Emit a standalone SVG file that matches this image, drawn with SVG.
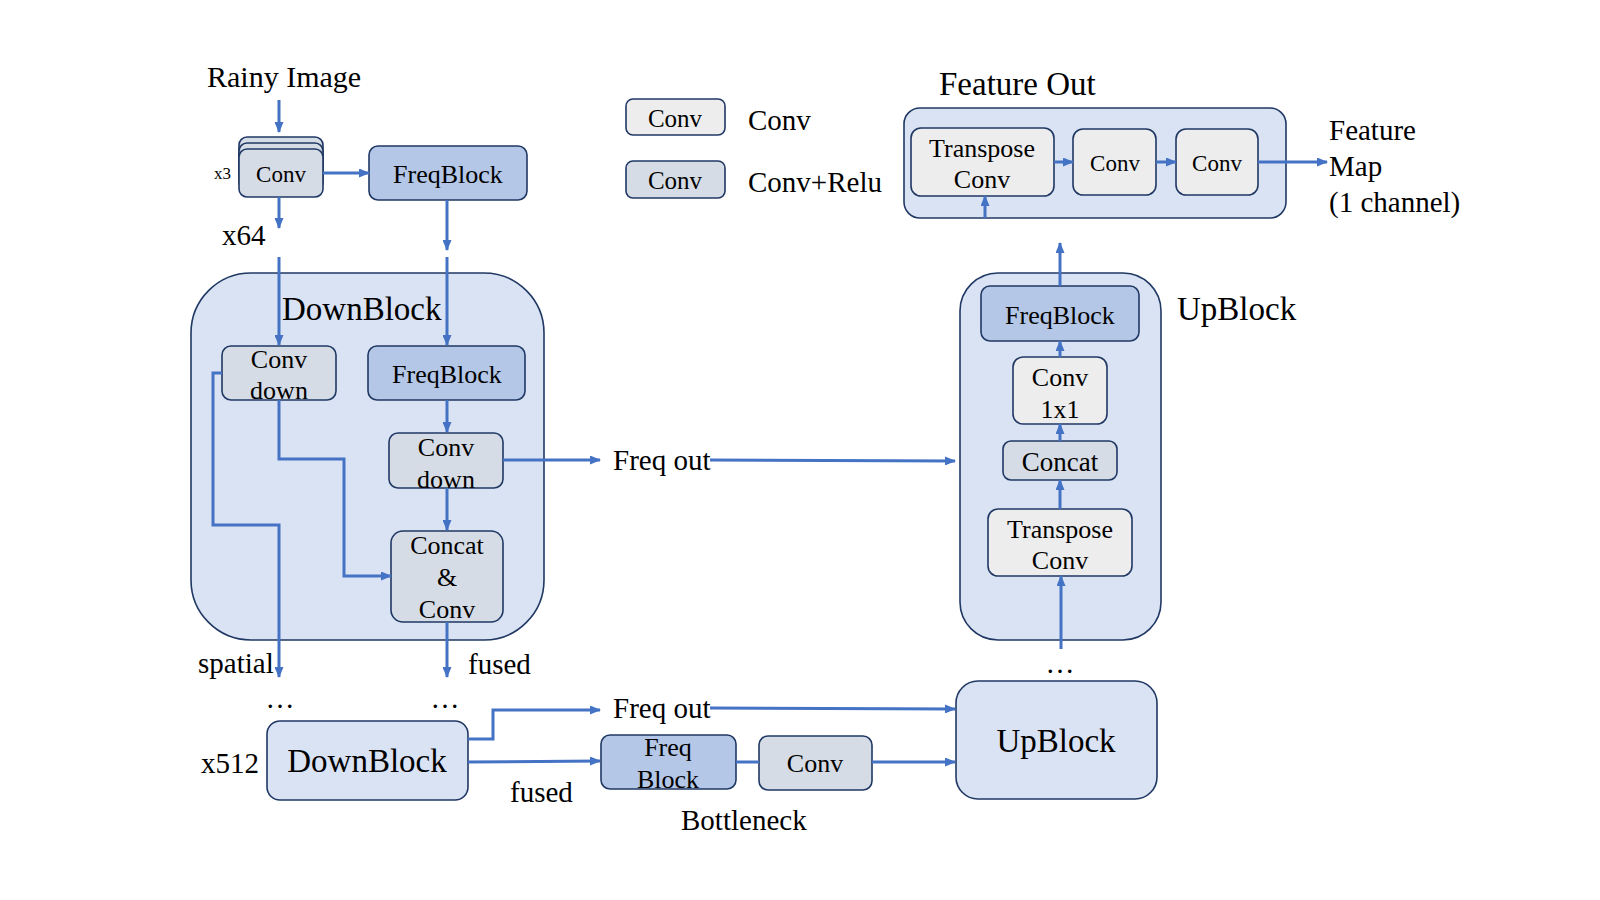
<svg xmlns="http://www.w3.org/2000/svg" width="1600" height="900" viewBox="0 0 1600 900">
<defs>
<marker id="ah" markerWidth="11" markerHeight="9" refX="10" refY="4.5" orient="auto" markerUnits="userSpaceOnUse">
<path d="M0,0 L11,4.5 L0,9 z" fill="#4472c4"/>
</marker>
<style>
text{font-family:"Liberation Serif","Times New Roman",serif;fill:#000}
.lbl{font-size:29px}
.big{font-size:33px}
.bt{font-size:26px;text-anchor:middle}
.st{font-size:23px;text-anchor:middle}
.cont{fill:#dae3f3;stroke:#203864;stroke-width:1.6}
.freq{fill:#b4c7e7;stroke:#203864;stroke-width:1.6}
.relu{fill:#d6dce5;stroke:#203864;stroke-width:1.6}
.conv{fill:#ededed;stroke:#203864;stroke-width:1.6}
.c{fill:none;stroke:#4472c4;stroke-width:3}
.a{marker-end:url(#ah)}
</style>
</defs>
<rect width="1600" height="900" fill="#ffffff"/>

<!-- free labels -->
<text class="lbl" x="207" y="87" style="font-size:30px">Rainy Image</text>
<text x="214" y="179" style="font-size:17px">x3</text>
<text class="lbl" x="222" y="245">x64</text>
<text class="lbl" x="198" y="673">spatial</text>
<text class="lbl" x="468" y="674">fused</text>
<text class="lbl" x="280" y="708" style="text-anchor:middle">…</text>
<text class="lbl" x="445" y="708" style="text-anchor:middle">…</text>
<text class="lbl" x="1060" y="673" style="text-anchor:middle">…</text>
<text class="lbl" x="201" y="773">x512</text>
<text class="lbl" x="510" y="802">fused</text>
<text class="lbl" x="613" y="470">Freq out</text>
<text class="lbl" x="613" y="718">Freq out</text>
<text class="lbl" x="681" y="830">Bottleneck</text>
<text class="big" x="1177" y="320">UpBlock</text>
<text class="big" x="939" y="95">Feature Out</text>
<text class="lbl" x="1329" y="140">Feature</text>
<text class="lbl" x="1329" y="176">Map</text>
<text class="lbl" x="1329" y="212">(1 channel)</text>

<!-- legend -->
<g id="legend">
<rect class="conv" x="626" y="99" width="99" height="36" rx="7"/>
<text class="bt" x="675" y="127" style="font-size:25px">Conv</text>
<text class="lbl" x="748" y="130">Conv</text>
<rect class="relu" x="626" y="161" width="99" height="37" rx="7"/>
<text class="bt" x="675" y="189" style="font-size:25px">Conv</text>
<text class="lbl" x="748" y="192">Conv+Relu</text>
</g>

<!-- containers -->
<g id="downblock">
<rect class="cont" x="191" y="273" width="353" height="367" rx="60"/>
<text class="big" x="282" y="320">DownBlock</text>
</g>
<g id="upblock">
<rect class="cont" x="960" y="273" width="201" height="367" rx="38"/>
</g>
<g id="featureout">
<rect class="cont" x="904" y="108" width="382" height="110" rx="16"/>
</g>

<!-- nodes -->
<g id="conv-in">
<rect class="relu" x="239" y="137" width="84" height="47" rx="8"/>
<rect class="relu" x="239" y="143" width="84" height="47" rx="8"/>
<rect class="relu" x="239" y="149" width="84" height="48" rx="8"/>
<text class="st" x="281" y="182">Conv</text>
</g>
<g id="freqblock-in">
<rect class="freq" x="369" y="146" width="158" height="54" rx="9"/>
<text class="bt" x="448" y="183">FreqBlock</text>
</g>
<g id="convdown-1">
<rect class="relu" x="222" y="346" width="114" height="54" rx="9"/>
<text class="bt" x="279" y="368">Conv</text>
<text class="bt" x="279" y="399">down</text>
</g>
<g id="freqblock-d">
<rect class="freq" x="368" y="346" width="157" height="54" rx="9"/>
<text class="bt" x="447" y="383">FreqBlock</text>
</g>
<g id="convdown-2">
<rect class="relu" x="389" y="433" width="114" height="55" rx="9"/>
<text class="bt" x="446" y="456">Conv</text>
<text class="bt" x="446" y="488">down</text>
</g>
<g id="concatconv">
<rect class="relu" x="391" y="531" width="112" height="91" rx="12"/>
<text class="bt" x="447" y="554">Concat</text>
<text class="bt" x="447" y="586">&amp;</text>
<text class="bt" x="447" y="618">Conv</text>
</g>
<g id="downblock-512">
<rect class="cont" x="267" y="721" width="201" height="79" rx="13"/>
<text class="big" x="367" y="772" style="text-anchor:middle">DownBlock</text>
</g>
<g id="freqblock-b">
<rect class="freq" x="601" y="735" width="135" height="54" rx="9"/>
<text class="bt" x="668" y="756">Freq</text>
<text class="bt" x="668" y="788">Block</text>
</g>
<g id="conv-b">
<rect class="relu" x="759" y="736" width="113" height="54" rx="9"/>
<text class="bt" x="815" y="772">Conv</text>
</g>
<g id="upblock-b">
<rect class="cont" x="956" y="681" width="201" height="118" rx="22"/>
<text class="big" x="1056" y="752" style="text-anchor:middle">UpBlock</text>
</g>
<g id="transpose-u">
<rect class="conv" x="988" y="509" width="144" height="67" rx="10"/>
<text class="bt" x="1060" y="538">Transpose</text>
<text class="bt" x="1060" y="569">Conv</text>
</g>
<g id="concat-u">
<rect class="relu" x="1003" y="441" width="114" height="39" rx="8"/>
<text class="bt" x="1060" y="471" style="font-size:27px">Concat</text>
</g>
<g id="conv1x1-u">
<rect class="conv" x="1013" y="357" width="94" height="67" rx="10"/>
<text class="bt" x="1060" y="386">Conv</text>
<text class="bt" x="1060" y="418">1x1</text>
</g>
<g id="freqblock-u">
<rect class="freq" x="981" y="286" width="158" height="55" rx="9"/>
<text class="bt" x="1060" y="324">FreqBlock</text>
</g>
<g id="transpose-f">
<rect class="conv" x="911" y="128" width="143" height="68" rx="10"/>
<text class="bt" x="982" y="157">Transpose</text>
<text class="bt" x="982" y="188">Conv</text>
</g>
<g id="conv-f1">
<rect class="conv" x="1073" y="129" width="83" height="66" rx="10"/>
<text class="st" x="1115" y="171">Conv</text>
</g>
<g id="conv-f2">
<rect class="conv" x="1176" y="129" width="82" height="66" rx="10"/>
<text class="st" x="1217" y="171">Conv</text>
</g>

<!-- connectors -->
<g id="connectors">
<path class="c a" d="M279,100 V132"/>
<path class="c a" d="M323,173 H369"/>
<path class="c a" d="M279,197 V228"/>
<path class="c a" d="M447,200 V250"/>
<path class="c a" d="M279,257 V345"/>
<path class="c a" d="M447,257 V345"/>
<path class="c a" d="M447,400 V432"/>
<path class="c a" d="M447,488 V530"/>
<path class="c a" d="M503,460 H600"/>
<path class="c a" d="M710,460 L955,461"/>
<path class="c a" d="M279,400 V459 H344 V576 H391"/>
<path class="c a" d="M222,373 H213 V525 H279 V677"/>
<path class="c a" d="M447,622 V677"/>
<path class="c a" d="M468,739 H493 V710 H600"/>
<path class="c a" d="M468,762 L600,761"/>
<path class="c a" d="M710,708 L955,709"/>
<path class="c" d="M736,762 H759"/>
<path class="c a" d="M872,762 H955"/>
<path class="c a" d="M1061,649 V576"/>
<path class="c a" d="M1060,509 V480"/>
<path class="c a" d="M1060,441 V424"/>
<path class="c a" d="M1060,357 V341"/>
<path class="c a" d="M1060,286 V243"/>
<path class="c a" d="M985,218 V196"/>
<path class="c a" d="M1054,162 H1073"/>
<path class="c a" d="M1156,162 H1176"/>
<path class="c a" d="M1258,162 H1327"/>
</g>
</svg>
